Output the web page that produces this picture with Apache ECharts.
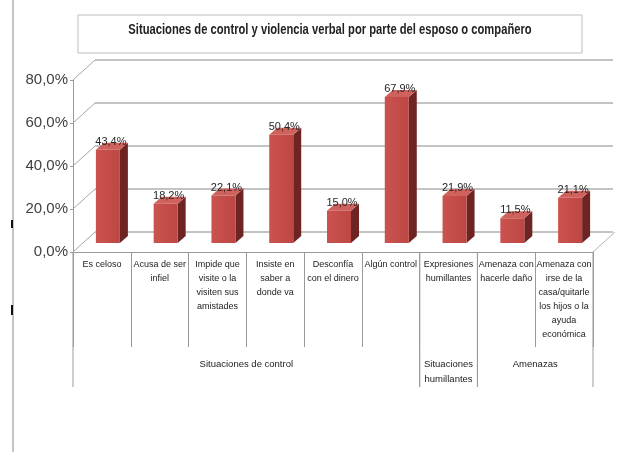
<!DOCTYPE html>
<html>
<head>
<meta charset="utf-8">
<script src="https://cdn.jsdelivr.net/npm/echarts@6/dist/echarts.min.js"></script>
<style>
  html, body { margin: 0; padding: 0; background: #fff; }
  #chart { width: 619px; height: 452px; }
</style>
</head>
<body>
<div id="chart"></div>
<script>
const categories = [
  'Es celoso',
  'Acusa de ser\ninfiel',
  'Impide que\nvisite o la\nvisiten sus\namistades',
  'Insiste en\nsaber a\ndonde va',
  'Desconfía\ncon el dinero',
  'Algún control',
  'Expresiones\nhumillantes',
  'Amenaza con\nhacerle daño',
  'Amenaza con\nirse de la\ncasa/quitarle\nlos hijos o la\nayuda\neconómica'
];
const values = [43.4, 18.2, 22.1, 50.4, 15.0, 67.9, 21.9, 11.5, 21.1];
const groupNames = ['Situaciones de control', 'Situaciones\nhumillantes', 'Amenazas'];
const groupSizes = [6, 1, 2];
const yTicks = [0, 20, 40, 60, 80];

const labelFont = "'Liberation Sans', Arial, sans-serif";
const DX = 22, DY = -20;   // desplazamiento de la pared del fondo
const fmt = v => v.toFixed(1).replace('.', ',') + '%';

// grupos: [inicio, fin, indice]
let groupData = [];
let start = 0;
groupSizes.forEach((n, k) => { groupData.push([start, start + n - 1, k]); start += n; });

function renderBar(params, api) {
  const i = api.value(0), v = api.value(1);
  const base = api.coord([i, 0]), top = api.coord([i, v]);
  const x0 = base[0] - 6, x1 = base[0] + 18;
  const yb = base[1] - 9, yt = top[1] - 9;
  const sx = 8, sy = -7;
  return {
    type: 'group',
    children: [
      { type: 'polygon', shape: { points: [[x1, yb], [x1 + sx, yb + sy], [x1 + sx, yt + sy], [x1, yt]] },
        style: { fill: '#6d2422' } },
      { type: 'polygon', shape: { points: [[x0, yt], [x1, yt], [x1 + sx, yt + sy], [x0 + sx, yt + sy]] },
        style: { fill: '#d0625e' } },
      { type: 'rect', shape: { x: x0, y: yt, width: x1 - x0, height: yb - yt },
        style: { fill: new echarts.graphic.LinearGradient(0, 0, 1, 0, [
          { offset: 0, color: '#cb534f' }, { offset: 1, color: '#bd4744' }]) } },
      { type: 'text', style: { text: fmt(v), x: (x0 + x1) / 2 + 3, y: yt - 8, align: 'center',
        verticalAlign: 'middle', fontSize: 11, fontFamily: labelFont, fill: '#262626' } }
    ]
  };
}

function renderFrame(params, api) {
  const v = api.value(1);
  const cs = params.coordSys;
  const y = api.coord([0, v])[1];
  const children = [
    { type: 'line', shape: { x1: cs.x, y1: y, x2: cs.x + DX, y2: y + DY },
      style: { stroke: '#a6a6a6', lineWidth: 1 } }
  ];
  if (v === 0) {
    const xr = cs.x + cs.width;
    children.push({ type: 'line', shape: { x1: xr, y1: y, x2: xr + DX, y2: y + DY },
      style: { stroke: '#b5b5b5', lineWidth: 1 } });
  }
  return { type: 'group', children };
}

function renderGroups(params, api) {
  const s = api.value(0), e = api.value(1), k = api.value(2);
  const bw = api.size([1, 0])[0];
  const y0 = api.coord([0, 0])[1];
  const xl = api.coord([s, 0])[0] - bw / 2;
  const xr = api.coord([e, 0])[0] + bw / 2;
  const ls = { stroke: '#9a9a9a', lineWidth: 1 };
  return {
    type: 'group',
    children: [
      { type: 'line', shape: { x1: xl, y1: y0, x2: xl, y2: y0 + 135 }, style: ls },
      { type: 'line', shape: { x1: xr, y1: y0, x2: xr, y2: y0 + 135 }, style: ls },
      { type: 'text', style: { text: groupNames[k], x: (xl + xr) / 2, y: y0 + 105, align: 'center',
        verticalAlign: 'top', fontSize: 9.5, lineHeight: 15, fontFamily: labelFont, fill: '#222' } }
    ]
  };
}

let chart = echarts.init(document.getElementById('chart'));
chart.setOption({
  animation: false,
  backgroundColor: '#fff',
  graphic: [
    { type: 'rect', shape: { x: 78, y: 15, width: 504, height: 38 },
      style: { fill: 'none', stroke: '#bdbdbd', lineWidth: 1 } },
    { type: 'text', x: 330, y: 30, scaleX: 0.8,
      style: { text: 'Situaciones de control y violencia verbal por parte del esposo o compañero',
        align: 'center', verticalAlign: 'middle', fontSize: 14, fontWeight: 'bold',
        fontFamily: labelFont, fill: '#222' } },
    { type: 'line', shape: { x1: 13, y1: 0, x2: 13, y2: 452 }, style: { stroke: '#8a8a8a', lineWidth: 1 } },
    { type: 'line', shape: { x1: 12, y1: 220, x2: 12, y2: 228 }, style: { stroke: '#111', lineWidth: 2 } },
    { type: 'line', shape: { x1: 12, y1: 305, x2: 12, y2: 315 }, style: { stroke: '#111', lineWidth: 2 } }
  ],
  grid: [
    { left: 73, right: 26, top: 80, bottom: 200 },
    { left: 95, right: 6, top: 60, bottom: 220 }
  ],
  xAxis: [
    {
      type: 'category', data: categories, gridIndex: 0,
      axisLine: { lineStyle: { color: '#9a9a9a' } },
      axisTick: { show: true, length: 95, interval: 0, lineStyle: { color: '#9a9a9a' } },
      axisLabel: { interval: 0, fontSize: 9, lineHeight: 14, margin: 6, color: '#222', fontFamily: labelFont }
    },
    { type: 'value', gridIndex: 1, show: false, min: 0, max: 1 }
  ],
  yAxis: [
    {
      type: 'value', gridIndex: 0, min: 0, max: 80, interval: 20,
      axisLine: { show: true, lineStyle: { color: '#9a9a9a' } },
      axisTick: { show: true, length: 3, lineStyle: { color: '#9a9a9a' } },
      splitLine: { show: false },
      axisLabel: { formatter: fmt, fontSize: 15, margin: 5, color: '#404040', fontFamily: labelFont }
    },
    {
      type: 'value', gridIndex: 1, min: 0, max: 80, interval: 20,
      axisLine: { show: false }, axisTick: { show: false }, axisLabel: { show: false },
      splitLine: { show: true, lineStyle: { color: '#b0b0b0', width: 1.5 } }
    }
  ],
  series: [
    { type: 'custom', name: 'frame', xAxisIndex: 0, yAxisIndex: 0, renderItem: renderFrame,
      data: yTicks.map(t => [0, t]), z: 1, silent: true },
    { type: 'custom', name: 'grupos', xAxisIndex: 0, yAxisIndex: 0, renderItem: renderGroups,
      data: groupData, z: 1, silent: true, encode: { x: 0, y: 2 } },
    { type: 'custom', name: 'valores', xAxisIndex: 0, yAxisIndex: 0, renderItem: renderBar,
      data: values.map((v, i) => [i, v]), z: 3 }
  ]
});
</script>
</body>
</html>
